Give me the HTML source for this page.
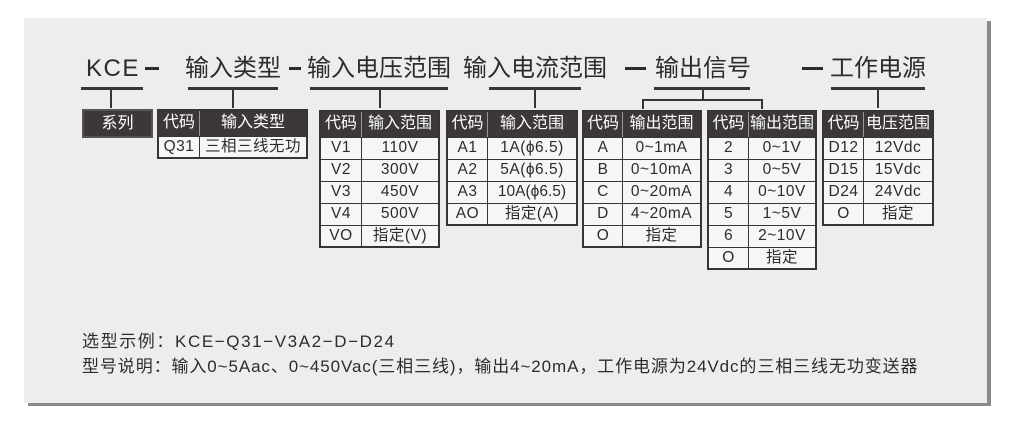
<!DOCTYPE html>
<html><head><meta charset="utf-8"><style>
body{margin:0;width:1016px;height:425px;background:#fff;position:relative;overflow:hidden;font-family:"Liberation Sans","Noto Sans CJK SC",sans-serif;}
.panel{position:absolute;left:24px;top:18px;width:963px;height:385px;background:#ededed;box-shadow:4px 3px 0 #8a8a8a;}
.a{position:absolute;}
.h{position:absolute;font-size:24px;color:#2f2b2b;top:54px;line-height:30px;white-space:nowrap;}
.d{position:absolute;height:3px;background:#2f2b2b;}
.u{position:absolute;top:87px;height:3px;background:#3a3535;}
.v{position:absolute;width:2px;background:#3a3535;}
table{position:absolute;border-collapse:collapse;border:2px solid #3a3535;background:#f6f6f6;}
td{border:1px solid #3a3535;padding:0;font-size:15.5px;color:#2f2b2b;text-align:center;white-space:nowrap;line-height:16px;letter-spacing:0.5px;}
tr.hd td{background:#3d3838;color:#fff;border-color:#999 #999 #3a3535 #999;font-size:16px;letter-spacing:0;}
.t{position:absolute;left:82px;font-size:17px;color:#2f2b2b;white-space:nowrap;}
</style></head><body>
<div class="panel"></div>
<div class="h" style="left:86px;letter-spacing:1.5px">KCE</div>
<div class="d" style="left:145px;width:14px;top:67px"></div>
<div class="h" style="left:185px">输入类型</div>
<div class="d" style="left:289px;width:12px;top:67px"></div>
<div class="h" style="left:307px">输入电压范围</div>
<div class="h" style="left:463px">输入电流范围</div>
<div class="d" style="left:625px;width:21px;top:67px"></div>
<div class="h" style="left:655px">输出信号</div>
<div class="d" style="left:802px;width:21px;top:67px"></div>
<div class="h" style="left:830px">工作电源</div>
<div class="u" style="left:81px;width:62px"></div>
<div class="u" style="left:188px;width:90px"></div>
<div class="u" style="left:310px;width:138px"></div>
<div class="u" style="left:489px;width:92px"></div>
<div class="u" style="left:654px;width:96px"></div>
<div class="u" style="left:831px;width:94px"></div>
<div class="v" style="left:110px;top:90px;height:18px"></div>
<div class="v" style="left:232px;top:90px;height:18px"></div>
<div class="v" style="left:379px;top:90px;height:18px"></div>
<div class="v" style="left:534px;top:90px;height:18px"></div>
<div class="v" style="left:702px;top:90px;height:10px"></div>
<div class="a" style="left:642px;top:99px;width:121px;height:2px;background:#3a3535"></div>
<div class="v" style="left:642px;top:99px;height:10px"></div>
<div class="v" style="left:761px;top:99px;height:10px"></div>
<div class="v" style="left:877px;top:90px;height:18px"></div>

<div class="a" style="left:82px;top:109px;width:67px;height:25px;background:#3d3838;border:2px solid #555;color:#fff;font-size:16px;text-align:center;line-height:25px">系列</div>

<table style="left:157px;top:109px;width:151px">
<tr class="hd" style="height:26px"><td style="width:40px">代码</td><td>输入类型</td></tr>
<tr style="height:22px"><td>Q31</td><td>三相三线无功</td></tr></table>

<table style="left:319px;top:110px;width:121px">
<tr class="hd" style="height:26px"><td style="width:40px">代码</td><td>输入范围</td></tr>
<tr style="height:22px"><td>V1</td><td>110V</td></tr>
<tr style="height:22px"><td>V2</td><td>300V</td></tr>
<tr style="height:22px"><td>V3</td><td>450V</td></tr>
<tr style="height:22px"><td>V4</td><td>500V</td></tr>
<tr style="height:22px"><td>VO</td><td>指定(V)</td></tr></table>

<table style="left:446px;top:110px;width:132px">
<tr class="hd" style="height:26px"><td style="width:39px">代码</td><td>输入范围</td></tr>
<tr style="height:22px"><td>A1</td><td>1A(ϕ6.5)</td></tr>
<tr style="height:22px"><td>A2</td><td>5A(ϕ6.5)</td></tr>
<tr style="height:22px"><td>A3</td><td style="letter-spacing:0">10A(ϕ6.5)</td></tr>
<tr style="height:22px"><td>AO</td><td>指定(A)</td></tr></table>

<table style="left:582px;top:110px;width:120px">
<tr class="hd" style="height:26px"><td style="width:38px">代码</td><td>输出范围</td></tr>
<tr style="height:22px"><td>A</td><td>0~1mA</td></tr>
<tr style="height:22px"><td>B</td><td>0~10mA</td></tr>
<tr style="height:22px"><td>C</td><td>0~20mA</td></tr>
<tr style="height:22px"><td>D</td><td>4~20mA</td></tr>
<tr style="height:22px"><td>O</td><td>指定</td></tr></table>

<table style="left:707px;top:110px;width:110px">
<tr class="hd" style="height:26px"><td style="width:39px">代码</td><td>输出范围</td></tr>
<tr style="height:22px"><td>2</td><td>0~1V</td></tr>
<tr style="height:22px"><td>3</td><td>0~5V</td></tr>
<tr style="height:22px"><td>4</td><td>0~10V</td></tr>
<tr style="height:22px"><td>5</td><td>1~5V</td></tr>
<tr style="height:22px"><td>6</td><td>2~10V</td></tr>
<tr style="height:22px"><td>O</td><td>指定</td></tr></table>

<table style="left:822px;top:110px;width:112px">
<tr class="hd" style="height:26px"><td style="width:39px">代码</td><td>电压范围</td></tr>
<tr style="height:22px"><td>D12</td><td>12Vdc</td></tr>
<tr style="height:22px"><td>D15</td><td>15Vdc</td></tr>
<tr style="height:22px"><td>D24</td><td>24Vdc</td></tr>
<tr style="height:22px"><td>O</td><td>指定</td></tr></table>

<div class="t" style="top:327px;letter-spacing:1.6px">选型示例：KCE−Q31−V3A2−D−D24</div>
<div class="t" style="top:352px;letter-spacing:0.9px">型号说明：输入0~5Aac、0~450Vac(三相三线)，输出4~20mA，工作电源为24Vdc的三相三线无功变送器</div>
</body></html>
